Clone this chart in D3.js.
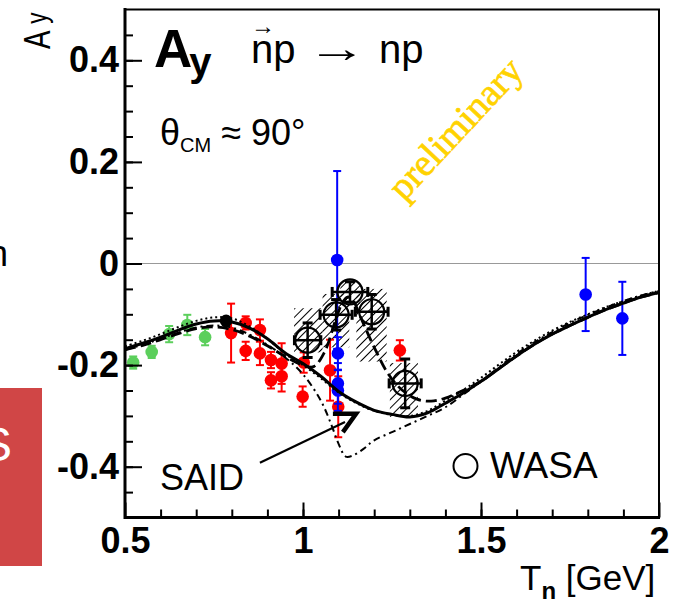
<!DOCTYPE html>
<html>
<head>
<meta charset="utf-8">
<script src="https://cdn.jsdelivr.net/npm/d3@7"></script>
<style>
body { margin: 0; background: #fff; }
svg { display: block; }
text { font-family: "Liberation Sans", Arial, sans-serif; }
</style>
</head>
<body>
<div id="chart"></div>
<script>
// A_y for polarized n p -> n p at theta_cm ~ 90 deg
// points: [Tn, Ay, err]
var greenPts = [[0.523, -0.195, 0.012], [0.575, -0.174, 0.012], [0.624, -0.139, 0.016],
                [0.675, -0.121, 0.02], [0.725, -0.145, 0.016]];
var redPts = [[0.798, -0.137, 0.058], [0.839, -0.117, 0.013], [0.839, -0.172, 0.018],
              [0.879, -0.131, 0.021], [0.879, -0.177, 0.023], [0.91, -0.19, 0.016],
              [0.91, -0.23, 0.016], [0.94, -0.197, 0.04], [0.94, -0.222, 0.03],
              [0.999, -0.262, 0.02], [1.002, -0.195, 0.02], [1.076, -0.21, 0.06],
              [1.099, -0.282, 0.06], [1.272, -0.171, 0.02]];
var blackPts = [[0.784, -0.113, 0]];
var bluePts = [[1.096, 0.007, 0.175], [1.098, -0.177, 0.032], [1.098, -0.236, 0.04],
               [1.098, -0.25, 0.04], [1.794, -0.061, 0.072], [1.897, -0.108, 0.072]];

// WASA: [Tn, Ay, errT, errA] and systematic boxes [T0, T1, A0, A1]
var wasaPts = [[1.013, -0.151, 0.037, 0.034], [1.093, -0.101, 0.045, 0.03],
               [1.132, -0.056, 0.05, 0.02], [1.193, -0.095, 0.046, 0.034],
               [1.287, -0.236, 0.045, 0.048]];
var wasaSys = [[0.975, 1.055, -0.175, -0.088], [1.055, 1.13, -0.165, -0.06],
               [1.105, 1.16, -0.085, -0.035], [1.15, 1.235, -0.193, -0.05],
               [1.244, 1.323, -0.302, -0.196]];

// theory curves [Tn, Ay]
var saidSolid = [[0.5, -0.168], [0.55, -0.157], [0.6, -0.145], [0.65, -0.131], [0.7, -0.119],
  [0.75, -0.113], [0.8, -0.115], [0.85, -0.127], [0.9, -0.148], [0.95, -0.176], [1.0, -0.197],
  [1.05, -0.222], [1.1, -0.252], [1.15, -0.273], [1.2, -0.289], [1.25, -0.297], [1.3, -0.302],
  [1.35, -0.294], [1.4, -0.275], [1.45, -0.255], [1.5, -0.232], [1.55, -0.207], [1.6, -0.182],
  [1.65, -0.159], [1.7, -0.139], [1.75, -0.122], [1.8, -0.106], [1.85, -0.091], [1.9, -0.078],
  [1.95, -0.066], [2.0, -0.057]];
var dottedCurve = [[0.5, -0.163], [0.55, -0.152], [0.6, -0.139], [0.65, -0.125], [0.7, -0.113],
  [0.75, -0.106], [0.8, -0.108], [0.85, -0.124], [0.9, -0.148], [0.95, -0.178], [1.0, -0.2],
  [1.05, -0.226], [1.1, -0.254], [1.15, -0.275], [1.2, -0.29], [1.25, -0.298], [1.3, -0.3],
  [1.35, -0.29], [1.4, -0.27], [1.45, -0.249], [1.5, -0.225], [1.55, -0.199], [1.6, -0.174],
  [1.65, -0.152], [1.7, -0.132], [1.75, -0.115], [1.8, -0.1], [1.85, -0.086], [1.9, -0.074],
  [1.95, -0.063], [2.0, -0.054]];
var dashedCurve = [[0.5, -0.17], [0.55, -0.161], [0.6, -0.15], [0.65, -0.138], [0.7, -0.128],
  [0.75, -0.125], [0.8, -0.13], [0.85, -0.143], [0.9, -0.162], [0.95, -0.183], [1.0, -0.2],
  [1.03, -0.203], [1.06, -0.175], [1.09, -0.115], [1.11, -0.078], [1.125, -0.066],
  [1.14, -0.072], [1.16, -0.103], [1.2, -0.165], [1.24, -0.218], [1.28, -0.25], [1.32, -0.267],
  [1.36, -0.271], [1.4, -0.265], [1.44, -0.253], [1.5, -0.232], [1.55, -0.207], [1.6, -0.182],
  [1.65, -0.159], [1.7, -0.139], [1.75, -0.122], [1.8, -0.106], [1.85, -0.091], [1.9, -0.078],
  [1.95, -0.066], [2.0, -0.057]];
var dashDotCurve = [[0.5, -0.17], [0.55, -0.16], [0.6, -0.148], [0.65, -0.136], [0.7, -0.126],
  [0.75, -0.122], [0.8, -0.126], [0.85, -0.14], [0.9, -0.16], [0.95, -0.185], [1.0, -0.218],
  [1.05, -0.27], [1.08, -0.318], [1.1, -0.355], [1.12, -0.38], [1.14, -0.378], [1.17, -0.365],
  [1.2, -0.348], [1.25, -0.332], [1.3, -0.316], [1.35, -0.3], [1.4, -0.283], [1.45, -0.258],
  [1.5, -0.232], [1.55, -0.204], [1.6, -0.178], [1.65, -0.155], [1.7, -0.135], [1.75, -0.117],
  [1.8, -0.101], [1.85, -0.087], [1.9, -0.074], [1.95, -0.063], [2.0, -0.054]];

// SAID arrow: line and head, in data coords
var saidArrow = [[0.879, -0.392], [1.118, -0.312]];
var saidHead = [[1.084, -0.296], [1.149, -0.296], [1.112, -0.332]];

var xTickVals = [0.5, 1, 1.5, 2];
var yTickVals = [-0.4, -0.2, 0, 0.2, 0.4];

var svg = d3.select("#chart").append("svg")
    .attr("width", 677)
    .attr("height", 599);

var x = d3.scaleLinear().domain([0.5, 2]).range([125, 659]);
var y = d3.scaleLinear().domain([-0.5, 0.5]).range([517.5, 9.5]);

// bits of the neighbouring slide
svg.append("rect").attr("x", 0).attr("y", 388).attr("width", 42).attr("height", 178)
    .attr("fill", "#d04646");
svg.append("text").attr("x", -20).attr("y", 461).attr("fill", "#fff")
    .attr("font-size", 48).text("S");
svg.append("text").attr("x", -12).attr("y", 266).attr("font-size", 36).text("n");

var defs = svg.append("defs");
defs.append("pattern")
    .attr("id", "hatch")
    .attr("patternUnits", "userSpaceOnUse")
    .attr("width", 6).attr("height", 6)
    .attr("patternTransform", "rotate(45)")
  .append("line")
    .attr("x1", 0).attr("y1", 0).attr("x2", 0).attr("y2", 6)
    .attr("stroke", "#000").attr("stroke-width", 2);

// zero line
svg.append("line")
    .attr("x1", x(0.5)).attr("x2", x(2))
    .attr("y1", y(0)).attr("y2", y(0))
    .attr("stroke", "#999").attr("stroke-width", 1);

// systematic boxes
svg.append("g").selectAll("rect")
    .data(wasaSys)
  .enter().append("rect")
    .attr("x", function(d) { return x(d[0]); })
    .attr("y", function(d) { return y(d[3]); })
    .attr("width", function(d) { return x(d[1]) - x(d[0]); })
    .attr("height", function(d) { return y(d[2]) - y(d[3]); })
    .attr("fill", "url(#hatch)");

function errPoints(data, color) {
  var g = svg.append("g");
  data.forEach(function(d) {
    var cx = x(d[0]);
    if (d[2] > 0) {
      g.append("line").attr("x1", cx).attr("x2", cx)
          .attr("y1", y(d[1] - d[2])).attr("y2", y(d[1] + d[2]))
          .attr("stroke", color).attr("stroke-width", 2);
      [d[1] - d[2], d[1] + d[2]].forEach(function(v) {
        g.append("line").attr("x1", cx - 4).attr("x2", cx + 4)
            .attr("y1", y(v)).attr("y2", y(v))
            .attr("stroke", color).attr("stroke-width", 2);
      });
    }
    g.append("circle").attr("cx", cx).attr("cy", y(d[1])).attr("r", 6.3).attr("fill", color);
  });
}

errPoints(greenPts, "#5ccf5c");
errPoints(redPts, "#ff0000");
errPoints(blackPts, "#000");
errPoints(bluePts, "#0000ff");

var line = d3.line()
    .x(function(d) { return x(d[0]); })
    .y(function(d) { return y(d[1]); })
    .curve(d3.curveCatmullRom.alpha(0.5));

svg.append("path").datum(dottedCurve).attr("d", line)
    .attr("fill", "none").attr("stroke", "#000").attr("stroke-width", 2)
    .attr("stroke-dasharray", "2,3");
svg.append("path").datum(dashDotCurve).attr("d", line)
    .attr("fill", "none").attr("stroke", "#000").attr("stroke-width", 2)
    .attr("stroke-dasharray", "7,4,2,4");
svg.append("path").datum(dashedCurve).attr("d", line)
    .attr("fill", "none").attr("stroke", "#000").attr("stroke-width", 2.8)
    .attr("stroke-dasharray", "11,5");
svg.append("path").datum(saidSolid).attr("d", line)
    .attr("fill", "none").attr("stroke", "#000").attr("stroke-width", 3);

// WASA points
var wg = svg.append("g");
wasaPts.forEach(function(d) {
  var cx = x(d[0]), cy = y(d[1]);
  var x0 = x(d[0] - d[2]), x1 = x(d[0] + d[2]);
  var y0 = y(d[1] - d[3]), y1 = y(d[1] + d[3]);
  wg.append("line").attr("x1", x0).attr("x2", x1).attr("y1", cy).attr("y2", cy)
      .attr("stroke", "#000").attr("stroke-width", 2.5);
  wg.append("line").attr("x1", cx).attr("x2", cx).attr("y1", y0).attr("y2", y1)
      .attr("stroke", "#000").attr("stroke-width", 2.5);
  [x0, x1].forEach(function(v) {
    wg.append("line").attr("x1", v).attr("x2", v).attr("y1", cy - 5).attr("y2", cy + 5)
        .attr("stroke", "#000").attr("stroke-width", 3);
  });
  [y0, y1].forEach(function(v) {
    wg.append("line").attr("x1", cx - 5).attr("x2", cx + 5).attr("y1", v).attr("y2", v)
        .attr("stroke", "#000").attr("stroke-width", 3);
  });
  wg.append("circle").attr("cx", cx).attr("cy", cy).attr("r", 12.5)
      .attr("fill", "none").attr("stroke", "#000").attr("stroke-width", 2.2);
});

// SAID arrow
svg.append("path").datum(saidArrow)
    .attr("d", d3.line().x(function(d) { return x(d[0]); }).y(function(d) { return y(d[1]); }))
    .attr("fill", "none").attr("stroke", "#000").attr("stroke-width", 2.2);
svg.append("path").datum(saidHead)
    .attr("d", d3.line().x(function(d) { return x(d[0]); }).y(function(d) { return y(d[1]); }))
    .attr("fill", "none").attr("stroke", "#000").attr("stroke-width", 4.5);

// axes
var yMajor = d3.axisLeft(y).tickValues(yTickVals).tickSize(-17).tickPadding(6)
    .tickFormat(function(d) { return d === 0 ? "0" : d.toFixed(1); });
var yMinor = d3.axisLeft(y).tickValues(d3.range(-0.45, 0.5, 0.05)).tickSize(-8).tickFormat("");
var xMajor = d3.axisBottom(x).tickValues(xTickVals).tickSize(-15).tickPadding(10)
    .tickFormat(function(d) { return String(d); });
var xMinor = d3.axisBottom(x).tickValues(d3.range(0.6, 2, 0.1)).tickSize(-8).tickFormat("");

[svg.append("g").attr("transform", "translate(125,0)").call(yMinor),
 svg.append("g").attr("transform", "translate(125,0)").call(yMajor),
 svg.append("g").attr("transform", "translate(0,517.5)").call(xMinor),
 svg.append("g").attr("transform", "translate(0,517.5)").call(xMajor)].forEach(function(g) {
  g.select(".domain").remove();
  g.selectAll(".tick line").attr("stroke", "#000").attr("stroke-width", 2);
  g.selectAll(".tick text")
      .attr("font-size", 36).attr("font-weight", "bold").attr("fill", "#000");
});

// frame
svg.append("rect").attr("x", 125).attr("y", 9.5).attr("width", 534).attr("height", 508)
    .attr("fill", "none").attr("stroke", "#000").attr("stroke-width", 2);
svg.append("path").attr("d", "M125,8V519M124,517.5H660")
    .attr("stroke", "#000").attr("stroke-width", 3);

// axis titles
var yt = svg.append("text")
    .attr("transform", "translate(50,49) rotate(-90) scale(0.75,1)")
    .attr("font-size", 37);
yt.append("tspan").text("A");
yt.append("tspan").attr("font-size", 30).attr("dx", 9).attr("dy", -3).text("y");

var xt = svg.append("text").attr("x", 520).attr("y", 590).attr("font-size", 35);
xt.append("tspan").text("T");
xt.append("tspan").attr("font-size", 24).attr("font-weight", "bold").attr("dy", 9).text("n");
xt.append("tspan").attr("dy", -9).text(" [GeV]");

// title
var t1 = svg.append("text").attr("x", 154).attr("y", 67)
    .attr("font-size", 53).attr("font-weight", "bold");
t1.append("tspan").text("A");
t1.append("tspan").attr("font-size", 40).attr("dx", -3).attr("dy", 9).text("y");

svg.append("text").attr("x", 251).attr("y", 63).attr("font-size", 40).text("np");
svg.append("text").attr("x", 251).attr("y", 34).attr("font-size", 24).text("\u2192");
svg.append("text").attr("transform", "translate(307,62) scale(1.5,1)")
    .attr("font-size", 40).text("\u2192");
svg.append("text").attr("x", 379).attr("y", 63).attr("font-size", 40).text("np");

var th = svg.append("text").attr("x", 160).attr("y", 145).attr("font-size", 36);
th.append("tspan").text("\u03b8");
th.append("tspan").attr("font-size", 20).attr("dy", 7).text("CM");
th.append("tspan").attr("dy", -7).text(" \u2248 90\u00b0");

// preliminary
svg.append("text")
    .attr("transform", "translate(404,202) rotate(-47)")
    .style("font-family", "'Liberation Serif', 'Times New Roman', serif")
    .attr("font-size", 38)
    .attr("fill", "#ffd200")
    .attr("stroke", "#ffd200")
    .attr("stroke-width", 0.7)
    .text("preliminary");

// labels
svg.append("text").attr("x", 160).attr("y", 490).attr("font-size", 36).text("SAID");
svg.append("circle").attr("cx", 465.5).attr("cy", 466).attr("r", 12)
    .attr("fill", "none").attr("stroke", "#000").attr("stroke-width", 2);
svg.append("text").attr("x", 490).attr("y", 478).attr("font-size", 37).text("WASA");
</script>
</body>
</html>
